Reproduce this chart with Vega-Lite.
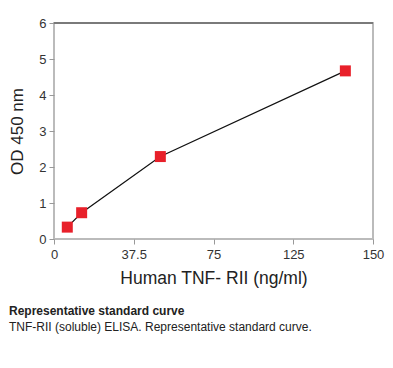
{
  "$schema": "https://vega.github.io/schema/vega-lite/v6.json",
  "autosize": {"type": "none"},
  "width": 319,
  "height": 216,
  "padding": {"left": 54, "top": 23, "right": 20, "bottom": 129},
  "background": "white",
  "config": {
    "font": "Liberation Sans",
    "view": {"stroke": "#bbbbbb", "strokeWidth": 2},
    "axis": {
      "domain": false,
      "grid": false,
      "tickColor": "#999999",
      "tickSize": 5,
      "labelFont": "Liberation Sans",
      "labelFontSize": 13,
      "labelColor": "#333333",
      "labelOverlap": false,
      "labelFlush": false,
      "titleFont": "Liberation Sans",
      "titleFontWeight": "normal",
      "titleColor": "#222222"
    }
  },
  "title": {
    "text": "Representative standard curve",
    "subtitle": "TNF-RII (soluble) ELISA. Representative standard curve.",
    "orient": "bottom",
    "anchor": "start",
    "frame": "group",
    "dx": -45,
    "offset": 19,
    "font": "Liberation Sans",
    "fontSize": 12,
    "fontWeight": "bold",
    "color": "#222222",
    "subtitleFont": "Liberation Sans",
    "subtitleFontSize": 12,
    "subtitleColor": "#222222",
    "subtitlePadding": 4
  },
  "data": {
    "values": [
      {"conc": 6.25, "od": 0.33},
      {"conc": 13, "od": 0.73},
      {"conc": 50, "od": 2.29},
      {"conc": 137, "od": 4.67}
    ]
  },
  "encoding": {
    "x": {
      "field": "conc",
      "type": "quantitative",
      "scale": {"domain": [0, 150], "nice": false},
      "axis": {
        "values": [0, 37.5, 75, 112.5, 150],
        "labelExpr": "datum.value == 112.5 ? '125' : (datum.value == 37.5 ? '37.5' : format(datum.value, 'd'))",
        "labelPadding": 4,
        "title": "Human TNF- RII (ng/ml)",
        "titleFontSize": 17.5,
        "titlePadding": 8
      }
    },
    "y": {
      "field": "od",
      "type": "quantitative",
      "scale": {"domain": [0, 6], "nice": false},
      "axis": {
        "values": [0, 1, 2, 3, 4, 5, 6],
        "format": "d",
        "labelPadding": 3,
        "title": "OD 450 nm",
        "titleFontSize": 17,
        "titlePadding": 12
      }
    }
  },
  "layer": [
    {
      "mark": {"type": "line", "color": "#111111", "strokeWidth": 1.2}
    },
    {
      "mark": {"type": "point", "shape": "square", "filled": true, "size": 121, "color": "#e8202a", "opacity": 1}
    },
    {
      "mark": {"type": "rule", "color": "#777777", "strokeWidth": 1},
      "encoding": {
        "x": {"datum": 0, "type": "quantitative"},
        "x2": {"datum": 150},
        "y": {"datum": 6, "type": "quantitative"}
      }
    }
  ]
}
